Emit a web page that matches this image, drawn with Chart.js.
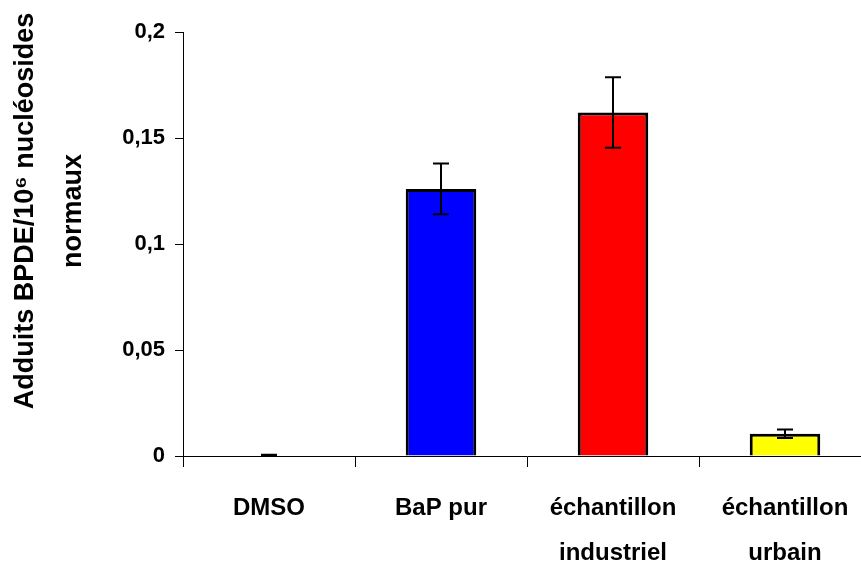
<!DOCTYPE html>
<html>
<head>
<meta charset="utf-8">
<script src="https://cdn.jsdelivr.net/npm/chart.js@4/dist/chart.umd.min.js"></script>
<style>
  html, body { margin: 0; padding: 0; background: #fff; overflow: hidden; }
  #wrap { position: absolute; left: 0; top: 0; width: 871px; height: 568px; }
</style>
</head>
<body>
<div id="wrap"><canvas id="c"></canvas></div>
<script>
const categories = [['DMSO'], ['BaP pur'], ['échantillon', 'industriel'], ['échantillon', 'urbain']];
const values = [0.0004, 0.126, 0.162, 0.0105];
const errors = [0.0002, 0.012, 0.0166, 0.002];
const yTickValues = [0, 0.05, 0.1, 0.15, 0.2];
const yTickLabels = ['0', '0,05', '0,1', '0,15', '0,2'];
const yTitle = ['Adduits BPDE/10\u2076 nucléosides', 'normaux'];

const barColors = ['rgba(0,0,0,0)', '#0000FF', '#FF0000', '#FFFF00'];
const barBorders = [0, 3, 3, 3];

const errorBarPlugin = {
  id: 'errorBars',
  afterDatasetsDraw(chart) {
    const meta = chart.getDatasetMeta(0);
    const ys = chart.scales.y;
    const ctx = chart.ctx;
    ctx.save();
    ctx.strokeStyle = '#000';
    ctx.lineWidth = 2;
    meta.data.forEach((bar, i) => {
      const x = bar.x;
      const top = ys.getPixelForValue(values[i] + errors[i]);
      const bot = ys.getPixelForValue(values[i] - errors[i]);
      ctx.beginPath();
      ctx.moveTo(x, top); ctx.lineTo(x, bot);
      ctx.moveTo(x - 8, top); ctx.lineTo(x + 8, top);
      ctx.moveTo(x - 8, bot); ctx.lineTo(x + 8, bot);
      ctx.stroke();
    });
    ctx.restore();
  }
};

const yTitlePlugin = {
  id: 'yTitle',
  afterDraw(chart) {
    const ctx = chart.ctx;
    ctx.save();
    ctx.fillStyle = '#000';
    ctx.font = 'bold 27px "Liberation Sans", Arial, sans-serif';
    ctx.textAlign = 'center';
    ctx.textBaseline = 'alphabetic';
    const baselines = [33, 81];
    yTitle.forEach((line, i) => {
      ctx.save();
      ctx.translate(baselines[i], 211);
      ctx.rotate(-Math.PI / 2);
      ctx.fillText(line, 0, 0);
      ctx.restore();
    });
    ctx.restore();
  }
};

new Chart(document.getElementById('c'), {
  type: 'bar',
  data: {
    labels: categories,
    datasets: [{
      data: values,
      backgroundColor: barColors,
      borderColor: '#000',
      borderWidth: barBorders,
      borderSkipped: 'start',
      categoryPercentage: 1,
      barPercentage: 0.41
    }]
  },
  options: {
    responsive: true,
    maintainAspectRatio: false,
    animation: false,
    devicePixelRatio: 1,
    layout: { padding: { top: 32, left: 0, right: 0, bottom: 0 } },
    plugins: { legend: { display: false }, tooltip: { enabled: false } },
    scales: {
      x: {
        grid: { display: true, offset: true, drawOnChartArea: false, drawTicks: true, tickLength: 11, color: '#000', lineWidth: 1 },
        border: { display: true, color: '#000', width: 1 },
        ticks: {
          color: '#000',
          font: { family: '"Liberation Sans", Arial, sans-serif', size: 24, weight: 'bold', lineHeight: '45px' },
          padding: 19,
          maxRotation: 0,
          autoSkip: false
        },
        afterFit(scale) { scale.height = 112; }
      },
      y: {
        min: 0,
        max: 0.2,
        afterBuildTicks(scale) { scale.ticks = yTickValues.map(v => ({ value: v })); },
        grid: { display: true, drawOnChartArea: false, drawTicks: true, tickLength: 8, color: '#000', lineWidth: 1 },
        border: { display: true, color: '#000', width: 1 },
        title: { display: false, text: yTitle },
        ticks: {
          color: '#000',
          font: { family: '"Liberation Sans", Arial, sans-serif', size: 22, weight: 'bold' },
          padding: 10,
          callback(value, index) { return yTickLabels[index]; }
        },
        afterFit(scale) { scale.width = 183; }
      }
    }
  },
  plugins: [errorBarPlugin, yTitlePlugin]
});
</script>
</body>
</html>
